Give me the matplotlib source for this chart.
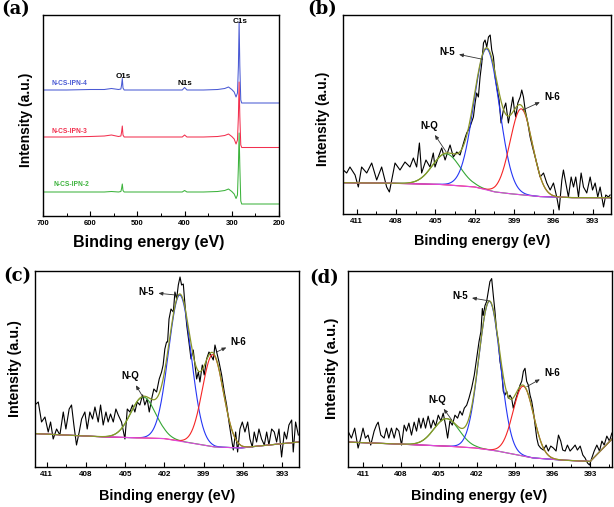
import numpy as np
import matplotlib
matplotlib.use('Agg')
import matplotlib.pyplot as plt
from matplotlib.ticker import MultipleLocator

W, H = 614, 507
plt.rcParams['font.family'] = ['Liberation Sans', 'DejaVu Sans']
plt.rcParams['font.weight'] = 'bold'

# ---------------- (a) survey spectra ----------------
a_energy = [700, 650, 600, 570, 555, 540, 535, 533.5, 532, 530.5, 528, 520, 480, 440, 405, 400,
            395, 360, 330, 315, 307, 300, 295, 291, 288, 286, 284.5, 283, 281, 279, 260, 230, 200]
a_ipn4 = [126, 126, 126.5, 126.5, 127.5, 126.5, 127, 131, 137.5, 128, 126, 126, 126, 126, 126, 128.5,
          126, 126, 126.5, 127.5, 129, 126.5, 124, 119, 123, 150, 194, 150, 116, 113, 113, 113, 113]
a_ipn3 = [79, 79, 79.5, 80, 81, 79.5, 80, 84, 90, 81, 79, 79, 79, 79, 79, 81,
          79, 79, 79.5, 80.5, 82, 79.5, 77, 72, 76, 100, 134, 100, 71, 68.5, 68.5, 68.5, 68.5]
a_ipn2 = [24, 24, 24, 24, 24.5, 24, 24.5, 27.5, 32, 25.5, 24, 24, 24, 24, 24, 25.5,
          24, 24, 24.5, 25.5, 27, 24.5, 22, 17.5, 21, 50, 83, 50, 15, 12, 12, 12, 12]
a_names = ['N-CS-IPN-4', 'N-CS-IPN-3', 'N-CS-IPN-2']
a_peak_names = ['O1s', 'N1s', 'C1s']

# ---------------- (b) N1s high resolution ----------------
b_energy = [412.03, 411.77, 411.52, 411.13, 410.88, 410.63, 410.24, 409.86, 409.48, 409.10,
            408.72, 408.51, 408.08, 407.70, 407.32, 406.94, 406.68, 406.43, 406.22, 406.05,
            405.72, 405.41, 405.16, 405.03, 404.77, 404.52, 404.26, 403.88, 403.63, 403.37,
            403.12, 402.74, 402.61, 402.36, 402.10, 401.97, 401.85, 401.72, 401.59, 401.46,
            401.33, 401.21, 401.08, 400.95, 400.82, 400.70, 400.57, 400.44, 400.32, 400.14,
            399.99, 399.81, 399.63, 399.43, 399.22, 399.09, 398.97, 398.87, 398.71, 398.53,
            398.41, 398.28, 398.15, 397.95, 397.77, 397.59, 397.39, 397.19, 397.01, 396.75,
            396.50, 396.24, 395.99, 395.74, 395.56, 395.35, 395.23, 395.05, 394.85, 394.64,
            394.46, 394.29, 394.08, 393.88, 393.70, 393.45, 393.19, 393.01, 392.81, 392.61,
            392.43, 392.17, 392.00, 391.79, 391.67]
b_counts = [44, 41, 47, 39, 27, 47, 41, 51, 34, 47,
            27, 22, 51, 44, 52, 47, 56, 47, 71, 41,
            54, 47, 61, 47, 57, 66, 54, 69, 57, 62,
            59, 76, 81, 87, 97, 111, 121, 117, 137, 151,
            171, 174, 167, 177, 179, 164, 157, 137, 127, 114,
            91, 104, 111, 91, 107, 117, 104, 97, 111, 117,
            124, 117, 104, 91, 77, 67, 57, 47, 37, 41,
            31, 24, 31, 17, 4, 34, 44, 31, 17, 37,
            27, 37, 17, 41, 27, 21, 37, 24, 31, 17,
            27, 7, 19, 17, 19]
b_base_energy = [412.05, 407.95, 404.5, 401.97, 400.44, 398.9, 396.9, 394.3, 391.6]
b_base_level = [31.3, 30.7, 29.5, 27, 22, 19.7, 17.3, 16.3, 16.3]
b_centers = [404.17, 401.08, 398.45]   # N-Q, N-5, N-6
b_heights = [31, 141, 86]
b_sigmas = [1.05, 0.97, 0.85]

# ---------------- (c) ----------------
c_energy = [411.90, 411.64, 411.39, 411.13, 410.88, 410.70, 410.50, 410.24, 409.99, 409.73,
            409.53, 409.28, 409.10, 408.92, 408.72, 408.51, 408.33, 408.08, 407.90, 407.70,
            407.49, 407.31, 407.06, 406.88, 406.68, 406.47, 406.30, 406.12, 405.91, 405.71,
            405.53, 405.28, 405.02, 404.84, 404.64, 404.44, 404.26, 404.08, 403.88, 403.67,
            403.50, 403.32, 403.16, 402.98, 402.81, 402.60, 402.40, 402.22, 402.10, 401.97,
            401.84, 401.76, 401.65, 401.50, 401.32, 401.20, 401.07, 400.94, 400.81, 400.69,
            400.56, 400.43, 400.30, 400.13, 399.97, 399.80, 399.67, 399.54, 399.41, 399.29,
            399.11, 398.96, 398.78, 398.60, 398.45, 398.27, 398.14, 398.01, 397.83, 397.63,
            397.43, 397.25, 397.07, 396.87, 396.74, 396.56, 396.41, 396.23, 396.05, 395.85,
            395.64, 395.47, 395.29, 395.14, 394.96, 394.78, 394.58, 394.37, 394.19, 394.02,
            393.81, 393.61, 393.43, 393.25, 393.05, 392.84, 392.67, 392.49, 392.28, 392.16,
            391.98, 391.77]
c_counts = [62, 65, 45, 50, 35, 45, 28, 38, 32, 55,
            38, 58, 62, 42, 22, 35, 48, 55, 38, 55,
            48, 60, 45, 62, 42, 55, 45, 53, 45, 58,
            52, 45, 28, 58, 55, 62, 55, 65, 62, 72,
            62, 68, 55, 68, 78, 75, 88, 95, 102, 118,
            125, 125, 148, 158, 155, 175, 168, 182, 190, 182,
            183, 162, 142, 125, 108, 117, 102, 88, 95, 85,
            102, 92, 108, 115, 112, 107, 122, 115, 105, 92,
            75, 62, 45, 28, 17, 35, 15, 38, 45, 35,
            45, 28, 20, 35, 25, 38, 28, 22, 35, 22,
            38, 35, 25, 38, 10, 35, 28, 42, 47, 15,
            45, 32]
c_base_energy = [411.89, 406.42, 403.62, 401.96, 400.43, 398.14, 396.1, 394.32, 391.72]
c_base_level = [33.4, 30, 29, 28.4, 25, 20, 19, 21.7, 25]
c_centers = [403.62, 400.82, 398.3]
c_heights = [41, 146, 92]
c_sigmas = [0.95, 0.86, 0.80]

# ---------------- (d) ----------------
d_energy = [412.19, 411.92, 411.66, 411.39, 411.18, 411.00, 410.81, 410.60, 410.39, 410.12,
            409.94, 409.80, 409.59, 409.33, 409.14, 408.96, 408.75, 408.53, 408.35, 408.16,
            407.95, 407.74, 407.56, 407.37, 407.16, 406.95, 406.76, 406.58, 406.42, 406.23,
            406.05, 405.84, 405.62, 405.44, 405.25, 405.04, 404.83, 404.65, 404.46, 404.30,
            404.12, 403.93, 403.72, 403.51, 403.32, 403.14, 402.98, 402.79, 402.61, 402.40,
            402.19, 402.00, 401.81, 401.66, 401.55, 401.48, 401.34, 401.21, 401.08, 400.95,
            400.81, 400.68, 400.55, 400.42, 400.28, 400.15, 400.02, 399.89, 399.76, 399.62,
            399.49, 399.36, 399.23, 399.10, 398.88, 398.70, 398.57, 398.43, 398.30, 398.17,
            398.04, 397.90, 397.77, 397.64, 397.51, 397.37, 397.24, 397.11, 396.93, 396.71,
            396.50, 396.32, 396.13, 395.92, 395.71, 395.52, 395.34, 395.18, 394.99, 394.81,
            394.60, 394.39, 394.20, 394.02, 393.80, 393.59, 393.41, 393.22, 393.06, 392.88,
            392.69, 392.48, 392.27, 392.08, 391.90, 391.69, 391.48, 391.29]
d_counts = [36, 29, 39, 19, 29, 39, 29, 32, 22, 36,
            42, 45, 32, 29, 39, 29, 39, 29, 39, 36,
            22, 42, 36, 44, 32, 45, 36, 49, 39, 49,
            39, 51, 39, 47, 41, 52, 46, 54, 42, 29,
            46, 42, 52, 49, 56, 52, 59, 62, 69, 79,
            92, 109, 126, 136, 159, 152, 162, 166, 176, 186,
            189, 172, 156, 136, 126, 106, 96, 76, 72, 76,
            69, 72, 69, 59, 69, 76, 82, 86, 96, 99,
            86, 82, 72, 66, 56, 42, 29, 22, 19, 17,
            22, 16, 21, 19, 16, 32, 26, 17, 16, 22,
            16, 19, 22, 17, 21, 12, 9, 4, 2, 9,
            16, 22, 16, 26, 22, 31, 26, 34]
d_base_energy = [412.19, 406.76, 403.85, 402.0, 400.15, 397.5, 394.86, 393.0, 392.2, 391.28]
d_base_level = [25, 22.3, 20.6, 19, 15.6, 9, 6.6, 5.6, 16, 28]
d_centers = [404.38, 400.98, 398.3]
d_heights = [27.6, 149, 70]
d_sigmas = [1.0, 0.85, 0.82]

comp_labels = ['N-Q', 'N-5', 'N-6']
hr_ticks = [411, 408, 405, 402, 399, 396, 393]

# colours
C_A = ['#4a5ad4', '#f2304f', '#3db33d']
C_COMP = ['#35a635', '#2536f5', '#f52525']
C_BASE = '#e048e0'
C_ENV = '#8a9628'

fig = plt.figure(figsize=(W / 100, H / 100), dpi=100)


def add_ax(l, r, t, b):
    return fig.add_axes([l / W, 1 - b / H, (r - l) / W, (b - t) / H])


def px(x, y):
    return x / W, 1 - y / H


def style(ax, labelsize):
    for s in ax.spines.values():
        s.set_linewidth(1.0)
        s.set_color('black')
    ax.set_yticks([])
    ax.tick_params(axis='x', which='major', direction='in', length=3.5, width=0.8,
                   labelsize=labelsize, pad=3, top=False)
    ax.tick_params(axis='x', which='minor', direction='in', length=2, width=0.7, top=False)


# ---- panel (a)
ax = add_ax(43, 279, 15, 216)
for yv, col in zip([a_ipn4, a_ipn3, a_ipn2], C_A):
    ax.plot(a_energy, yv, color=col, lw=0.75)
ax.set_xlim(700, 200)
ax.set_ylim(0, 201)
ax.xaxis.set_major_locator(MultipleLocator(100))
ax.xaxis.set_minor_locator(MultipleLocator(50))
style(ax, 5.5)
for name, col, (ex, hy) in zip(a_names, C_A, [(683, 132.7), (681, 84.3), (678, 31)]):
    ax.text(ex, hy, name, color=col, fontsize=4.8, ha='left', va='center')
for name, (ex, hy) in zip(a_peak_names, [(530, 140), (399, 132.7), (283, 194.3)]):
    ax.text(ex, hy, name, color='black', fontsize=5.8, ha='center', va='center')


def hr_panel(box, xlim, ylim, energy, counts, be, bl, centers, heights, sigmas, annots):
    ax = add_ax(*box)
    ax.plot(energy, counts, color='black', lw=0.8)
    grid = np.linspace(min(xlim), max(xlim), 800)
    base = np.interp(grid, be[::-1], bl[::-1])
    comps = [h * np.exp(-(grid - c) ** 2 / (2 * s ** 2)) for c, h, s in zip(centers, heights, sigmas)]
    for comp, col in zip(comps, C_COMP):
        ax.plot(grid, base + comp, color=col, lw=0.8)
    ax.plot(grid, base, color=C_BASE, lw=0.8)
    ax.plot(grid, base + sum(comps), color=C_ENV, lw=0.9)
    ax.set_xlim(*xlim)
    ax.set_ylim(*ylim)
    ax.set_xticks(hr_ticks)
    ax.xaxis.set_minor_locator(MultipleLocator(1.5))
    style(ax, 5.8)
    for lab, (txy, pxy) in zip(comp_labels, annots):
        ax.annotate(lab, xy=pxy, xytext=txy, fontsize=7, ha='center', va='center',
                    arrowprops=dict(arrowstyle='<|-,head_length=0.35,head_width=0.15',
                                    color='#333333', lw=0.6, shrinkA=1, shrinkB=0))
    return ax


hr_panel((343, 611, 15, 214), (412.05, 391.6), (0, 199), b_energy, b_counts,
         b_base_energy, b_base_level, b_centers, b_heights, b_sigmas,
         [((405.49, 88), (404.19, 62.3)), ((404.11, 162), (401.39, 154.7)),
          ((396.12, 117.3), (398.33, 104))])
hr_panel((35, 299, 271, 467), (411.89, 391.72), (0, 196), c_energy, c_counts,
         c_base_energy, c_base_level, c_centers, c_heights, c_sigmas,
         [((404.59, 90.7), (403.57, 68.4)), ((403.37, 175), (400.95, 171.7)),
          ((396.36, 125), (398.02, 115))])
hr_panel((348, 612, 271, 467), (412.19, 391.28), (0, 196.6), d_energy, d_counts,
         d_base_energy, d_base_level, d_centers, d_heights, d_sigmas,
         [((405.12, 67.3), (403.98, 47.3)), ((403.32, 171.6), (401.0, 166.6)),
          ((396.05, 94.6), (398.03, 80.6))])

# axis labels
for (x, y, s) in [(148.3, 242, 11.5), (481.7, 240.5, 10.4), (166.7, 495.7, 10.4), (479, 495.7, 10.4)]:
    fig.text(*px(x, y), 'Binding energy (eV)', fontsize=s, ha='center', va='center')
for (x, y, s) in [(26, 119.5, 10), (323.5, 119, 10), (15.5, 369, 10.3), (331.7, 368, 10.8)]:
    fig.text(*px(x, y), 'Intensity (a.u.)', fontsize=s, ha='center', va='center', rotation=90)

# panel letters
for (x, y, t) in [(16, 9, '(a)'), (322, 9, '(b)'), (17.5, 276.5, '(c)'), (324.5, 278.5, '(d)')]:
    fig.text(*px(x, y), t, fontsize=13, family='DejaVu Serif', weight='bold',
             ha='center', va='center')

fig.savefig('out.png', dpi=100)
